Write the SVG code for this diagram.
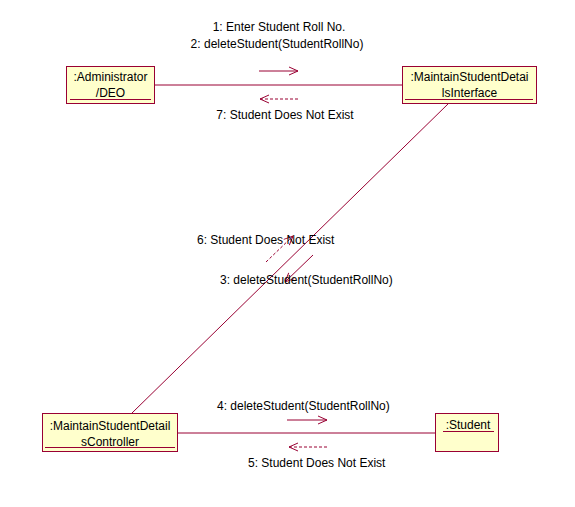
<svg xmlns="http://www.w3.org/2000/svg" width="575" height="507" viewBox="0 0 575 507">
<defs>
<style>
.box{fill:#FFFFCC;stroke:#990033;stroke-width:1}
.ul{stroke:#990033;stroke-width:1}
.t{font-family:"Liberation Sans",Arial,sans-serif;font-size:12px;fill:#000}
.c{stroke:#990033;stroke-width:1;fill:none}
.m{stroke:#990033;stroke-width:1;fill:none;marker-end:url(#ah)}
.d{stroke-dasharray:3,2}
</style>
<marker id="ah" viewBox="0 0 10 10" refX="10" refY="5" markerWidth="10" markerHeight="10" markerUnits="userSpaceOnUse" orient="auto">
<path d="M1,1 L10,5 L1,9" fill="none" stroke="#990033" stroke-width="1"/>
</marker>
</defs>
<rect width="575" height="507" fill="#fff"/>
<g id="connectors">
<line class="c" x1="155" y1="85" x2="402" y2="85"/>
<line class="c" x1="178" y1="433" x2="436" y2="433"/>
<line class="c" x1="449" y1="103" x2="132" y2="413"/>
<line class="m" x1="259" y1="71" x2="298" y2="71"/>
<line class="m d" x1="298" y1="99" x2="260" y2="99"/>
<line class="m" x1="287" y1="420" x2="327" y2="420"/>
<line class="m d" x1="327" y1="447" x2="289" y2="447"/>
<line class="m" x1="313" y1="255" x2="285" y2="282"/>
<line class="m d" x1="266" y1="262" x2="293" y2="236"/>
<text class="t" x="279" y="31" text-anchor="middle">1: Enter Student Roll No.</text>
<text class="t" x="277" y="48" text-anchor="middle">2: deleteStudent(StudentRollNo)</text>
<text class="t" x="285" y="119" text-anchor="middle">7: Student Does Not Exist</text>
<text class="t" x="197" y="244">6: Student Does Not Exist</text>
<text class="t" x="220" y="284">3: deleteStudent(StudentRollNo)</text>
<text class="t" x="217" y="410">4: deleteStudent(StudentRollNo)</text>
<text class="t" x="248" y="467">5: Student Does Not Exist</text>
</g>
<g id="administrator">
<rect class="box" x="66.5" y="66.5" width="88" height="37"/>
<text class="t" x="110.5" y="81" text-anchor="middle">:Administrator</text>
<text class="t" x="110.5" y="97" text-anchor="middle">/DEO</text>
<line class="ul" x1="70" y1="99.5" x2="151" y2="99.5"/>
</g>
<g id="interface">
<rect class="box" x="402.5" y="66.5" width="134" height="37"/>
<text class="t" x="469.5" y="81" text-anchor="middle">:MaintainStudentDetai</text>
<text class="t" x="469.5" y="97" text-anchor="middle">lsInterface</text>
<line class="ul" x1="405" y1="99.5" x2="533" y2="99.5"/>
</g>
<g id="controller">
<rect class="box" x="42.5" y="413.5" width="135" height="38"/>
<text class="t" x="110" y="430" text-anchor="middle">:MaintainStudentDetail</text>
<text class="t" x="110" y="446" text-anchor="middle">sController</text>
<line class="ul" x1="45" y1="447.5" x2="175" y2="447.5"/>
</g>
<g id="student">
<rect class="box" x="435.5" y="413.5" width="63" height="38"/>
<text class="t" x="468" y="429" text-anchor="middle">:Student</text>
<line class="ul" x1="443" y1="431.5" x2="494" y2="431.5"/>
</g>
</svg>
